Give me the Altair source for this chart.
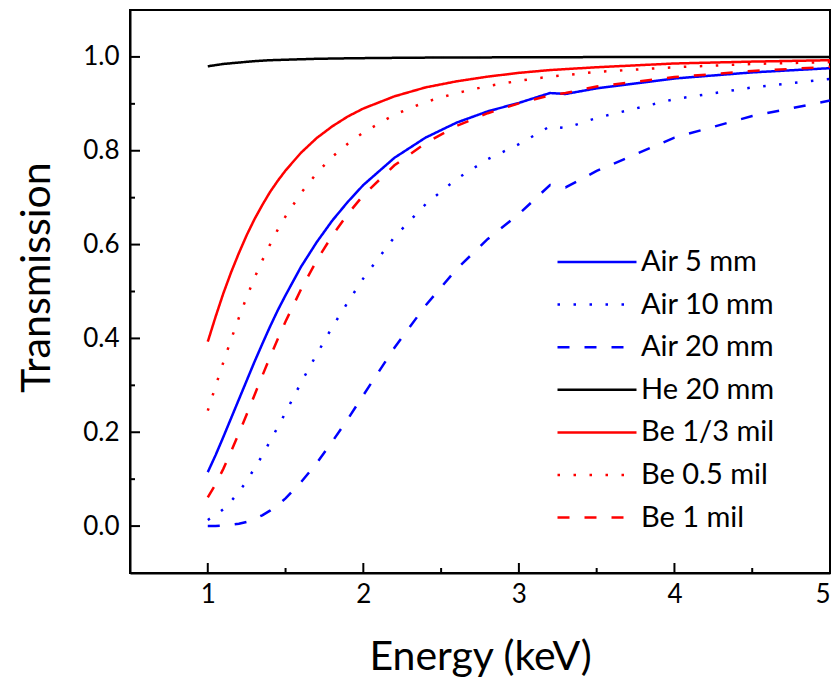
import altair as alt
import pandas as pd

energy = [1.0, 1.05, 1.1, 1.15, 1.2, 1.25, 1.3, 1.35, 1.4, 1.45, 1.5, 1.6, 1.7, 1.8, 1.9, 2.0,
          2.2, 2.4, 2.6, 2.8, 3.0, 3.2, 3.3, 3.5, 4.0, 4.5, 5.0]

air5 = [0.115, 0.151, 0.190, 0.230, 0.270, 0.310, 0.350, 0.388, 0.425, 0.460, 0.492, 0.553, 0.605, 0.651, 0.691, 0.727,
        0.785, 0.828, 0.860, 0.884, 0.902, 0.923, 0.921, 0.933, 0.954, 0.967, 0.976]
air10 = [0.013, 0.023, 0.036, 0.053, 0.073, 0.096, 0.123, 0.150, 0.181, 0.211, 0.242, 0.306, 0.366, 0.424, 0.477, 0.528,
         0.616, 0.686, 0.740, 0.782, 0.814, 0.852, 0.848, 0.870, 0.910, 0.935, 0.953]
air20 = [0.000, 0.000, 0.001, 0.003, 0.005, 0.009, 0.015, 0.023, 0.033, 0.045, 0.059, 0.094, 0.134, 0.180, 0.228, 0.279,
         0.380, 0.470, 0.548, 0.612, 0.665, 0.727, 0.722, 0.757, 0.828, 0.874, 0.907]
he20 = [0.980, 0.9825, 0.985, 0.9865, 0.988, 0.9895, 0.991, 0.992, 0.993, 0.9935, 0.994, 0.995, 0.996, 0.9965, 0.997, 0.9974,
        0.998, 0.9985, 0.9988, 0.999, 0.9992, 0.9994, 0.9995, 0.9996, 0.9997, 0.9998, 0.9998]
be13 = [0.393, 0.446, 0.496, 0.541, 0.582, 0.620, 0.654, 0.684, 0.712, 0.736, 0.758, 0.796, 0.827, 0.852, 0.873, 0.890,
        0.916, 0.935, 0.948, 0.958, 0.966, 0.972, 0.974, 0.978, 0.986, 0.990, 0.993]
be05 = [0.246, 0.298, 0.349, 0.398, 0.444, 0.488, 0.529, 0.566, 0.600, 0.632, 0.660, 0.710, 0.752, 0.787, 0.815, 0.839,
        0.877, 0.904, 0.923, 0.938, 0.949, 0.958, 0.961, 0.968, 0.978, 0.985, 0.989]
be1 = [0.061, 0.089, 0.122, 0.159, 0.198, 0.238, 0.279, 0.320, 0.360, 0.399, 0.436, 0.505, 0.566, 0.619, 0.665, 0.705,
       0.769, 0.816, 0.853, 0.880, 0.901, 0.918, 0.923, 0.937, 0.957, 0.970, 0.979]

series_names = ["Air 5 mm", "Air 10 mm", "Air 20 mm", "He 20 mm", "Be 1/3 mil", "Be 0.5 mil", "Be 1 mil"]
series_values = [air5, air10, air20, he20, be13, be05, be1]
series_colors = ["#0000ff", "#0000ff", "#0000ff", "#000000", "#ff0000", "#ff0000", "#ff0000"]
series_dashes = [[1, 0], [2.5, 13.5], [12, 15], [1, 0], [1, 0], [2.5, 13.5], [12, 15]]

x_major = [1, 2, 3, 4, 5]
x_minor = [1.5, 2.5, 3.5, 4.5]
y_major = [0.0, 0.2, 0.4, 0.6, 0.8, 1.0]
y_minor = [0.1, 0.3, 0.5, 0.7, 0.9]

rows = []
for name, vals in zip(series_names, series_values):
    for e, v in zip(energy, vals):
        rows.append({"Energy": e, "T": v, "Series": name})
df = pd.DataFrame(rows)

W, H = 700, 563
FONT = "Lato"

x_scale = alt.Scale(domain=[0.5, 5], nice=False, zero=False)
y_scale = alt.Scale(domain=[-0.1, 1.1], nice=False, zero=False)

x_axis = alt.Axis(values=x_major, format="d", title="Energy (keV)", ticks=False, tickSize=0,
                  labelPadding=8, labelFlush=True, grid=False, domainColor="black", domainWidth=2,
                  labelFontSize=26, titleFontSize=41, labelColor="black", titleColor="black",
                  titleFontWeight="normal", labelFont=FONT, titleFont=FONT,
                  titleBaseline="alphabetic", titleY=96, titleX=350)
y_axis = alt.Axis(values=y_major, format=".1f", title="Transmission", ticks=False, tickSize=0,
                  labelPadding=11, grid=False, domainColor="black", domainWidth=2,
                  labelFontSize=26, titleFontSize=41, labelColor="black", titleColor="black",
                  titleFontWeight="normal", labelFont=FONT, titleFont=FONT,
                  titleBaseline="alphabetic", titleAngle=270, titleX=-81, titleY=267, titleAlign="center")

legend = alt.Legend(
    title=None, orient="none", legendX=426, legendY=237,
    symbolType="stroke", symbolSize=6241, symbolStrokeWidth=2.5,
    labelFontSize=29, labelFont=FONT, labelColor="black", labelOffset=3,
    clipHeight=30, rowPadding=12.6, padding=0,
)

lines = alt.Chart(df).mark_line(strokeWidth=2.5, strokeCap="butt").encode(
    x=alt.X("Energy:Q", scale=x_scale, axis=x_axis),
    y=alt.Y("T:Q", scale=y_scale, axis=y_axis),
    color=alt.Color("Series:N", scale=alt.Scale(domain=series_names, range=series_colors), legend=legend),
    strokeDash=alt.StrokeDash("Series:N", scale=alt.Scale(domain=series_names, range=series_dashes), legend=legend),
)

xmaj = alt.Chart(pd.DataFrame({"Energy": x_major})).mark_rule(color="black", strokeWidth=2).encode(
    x=alt.X("Energy:Q", scale=x_scale, axis=x_axis), y=alt.value(H), y2=alt.value(H - 10))
xmin = alt.Chart(pd.DataFrame({"Energy": x_minor})).mark_rule(color="black", strokeWidth=2).encode(
    x=alt.X("Energy:Q", scale=x_scale, axis=x_axis), y=alt.value(H), y2=alt.value(H - 5))
ymaj = alt.Chart(pd.DataFrame({"T": y_major})).mark_rule(color="black", strokeWidth=2).encode(
    y=alt.Y("T:Q", scale=y_scale, axis=y_axis), x=alt.value(0), x2=alt.value(10))
ymin = alt.Chart(pd.DataFrame({"T": y_minor})).mark_rule(color="black", strokeWidth=2).encode(
    y=alt.Y("T:Q", scale=y_scale, axis=y_axis), x=alt.value(0), x2=alt.value(5))

chart = alt.layer(lines, xmaj, xmin, ymaj, ymin).properties(
    width=W, height=H,
    autosize=alt.AutoSizeParams(type="none"),
    padding={"left": 122, "top": 2, "right": 1, "bottom": 105},
).configure(font=FONT).configure_view(stroke="black", strokeWidth=2)

chart.save("out.html", embed_options={"renderer": "svg", "actions": False})
